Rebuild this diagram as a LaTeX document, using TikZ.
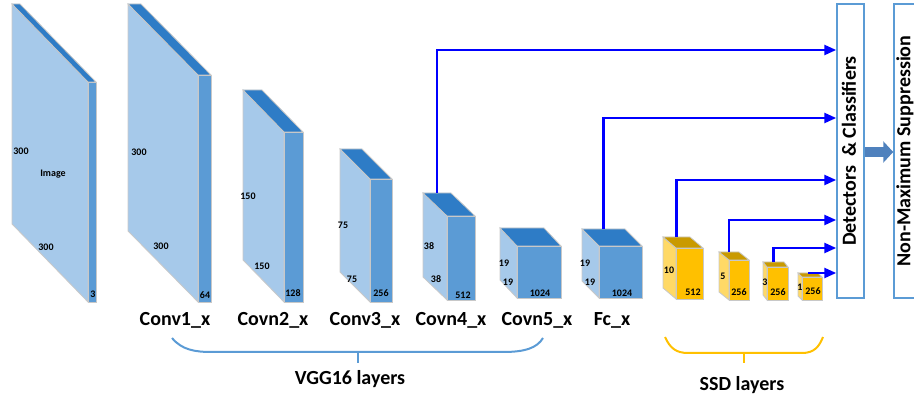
\documentclass[tikz,border=0pt]{standalone}
\usepackage{fontspec}
\setmainfont{Carlito}
\usetikzlibrary{arrows.meta}

\definecolor{bLight}{HTML}{A6C9EA}
\definecolor{bFront}{HTML}{5B9BD5}
\definecolor{bTop}{HTML}{2E7CC6}
\definecolor{yLight}{HTML}{FFD966}
\definecolor{yFront}{HTML}{FFC000}
\definecolor{yTop}{HTML}{C99A00}
\definecolor{edgeGray}{HTML}{C8C8C8}
\definecolor{linkBlue}{HTML}{0000FF}
\definecolor{fatArrow}{HTML}{4F81BD}

% cuboid: name, front x, front y, front width, front height, depth dx, depth dy, colour set
\newcommand\cuboid[8]{%
  \filldraw[fill=#8Light, draw=edgeGray, line width=0.8pt]
    (#2,#3) -- ++(-#6,-#7) -- ++(0,#5) -- ++(#6,#7) -- cycle;
  \filldraw[fill=#8Top, draw=edgeGray, line width=0.8pt]
    (#2,#3) -- ++(#4,0) -- ++(-#6,-#7) -- ++(-#4,0) -- cycle;
  \filldraw[fill=#8Front, draw=edgeGray, line width=0.8pt]
    (#2,#3) rectangle ++(#4,#5);
  \coordinate (#1) at ({#2-#6+#4/2},{#3-#7});
}

\begin{document}
\begin{tikzpicture}[x=1pt,y=-1pt,
  num/.style={font=\bfseries\fontsize{10}{10}\selectfont, inner sep=0pt},
  layer/.style={font=\bfseries\fontsize{20}{20}\selectfont, inner sep=0pt},
  conn/.style={draw=linkBlue, line width=2.4pt, -{Triangle[length=12pt,width=10pt]}},
  panel/.style={draw=bFront, line width=1.5pt, fill=white, inner sep=0pt}]
\useasboundingbox (0,0) rectangle (914,398);

% feature maps of the VGG16 backbone
\cuboid{img}{88}{82}{8}{220}{76}{78}{b}
\cuboid{c1}{198}{75}{13}{227}{70}{71}{b}
\cuboid{c2}{284}{132}{19}{170}{41}{42}{b}
\cuboid{c3}{370}{179}{22}{123}{30}{30}{b}
\cuboid{c4}{447}{216}{28}{84}{24}{23}{b}
\cuboid{c5}{517}{246}{44}{52}{17}{18}{b}
\cuboid{fc}{599}{246}{43}{52}{17}{17}{b}

% extra SSD feature maps
\cuboid{s1}{676}{248}{27}{51}{13}{11}{y}
\cuboid{s2}{729}{260}{20}{40}{10}{8}{y}
\cuboid{s3}{767}{267}{21}{33}{4}{5}{y}
\cuboid{s4}{802}{277}{20}{23}{4}{4}{y}

% sizes
\node[num] (tImg) at (53,174) {Image};
\node[num] (t01) at (21,151) {300};
\node[num] (t02) at (46,247) {300};
\node[num] (t03) at (93,294) {3};
\node[num] (t11) at (139,152) {300};
\node[num] (t12) at (161,246) {300};
\node[num] (t13) at (205,295) {64};
\node[num] (t21) at (248,196) {150};
\node[num] (t22) at (262,266) {150};
\node[num] (t23) at (293,293) {128};
\node[num] (t31) at (343,225) {75};
\node[num] (t32) at (352,279) {75};
\node[num] (t33) at (381,293) {256};
\node[num] (t41) at (429,246) {38};
\node[num] (t42) at (436,279) {38};
\node[num] (t43) at (463,295) {512};
\node[num] (t51) at (504,263) {19};
\node[num] (t52) at (508,282) {19};
\node[num] (t53) at (540,293) {1024};
\node[num] (t61) at (585,263) {19};
\node[num] (t62) at (590,282) {19};
\node[num] (t63) at (622,293) {1024};
\node[num] (u11) at (669,270) {10};
\node[num] (u12) at (693,292) {512};
\node[num] (u21) at (723,276) {5};
\node[num] (u22) at (739,292) {256};
\node[num] (u31) at (765,282) {3};
\node[num] (u32) at (778,292) {256};
\node[num] (u41) at (800,287) {1};
\node[num] (u42) at (813,291) {256};

% layer names
\node[layer] (L1) at (175,320) {Conv1\_x};
\node[layer] (L2) at (273,320) {Covn2\_x};
\node[layer] (L3) at (365,320) {Conv3\_x};
\node[layer] (L4) at (451,320) {Covn4\_x};
\node[layer] (L5) at (537,320) {Covn5\_x};
\node[layer] (L6) at (612,320) {Fc\_x};

% groups
\draw[bFront, line width=2pt] (172,338) .. controls (182,350) and (195,352) .. (212,352)
  -- (503,352) .. controls (525,352) and (537,348) .. (543,338);
\draw[bFront, line width=2pt] (358,352) -- (358,363);
\node[layer] (gVGG) at (350,379) {VGG16 layers};
\draw[yFront, line width=2pt] (665,337) .. controls (670,348) and (676,353) .. (688,353)
  -- (802,353) .. controls (814,353) and (819,347) .. (823,337);
\draw[yFront, line width=2pt] (744,353) -- (744,363);
\node[layer] (gSSD) at (742,385) {SSD layers};

% detection head
\node[panel, minimum width=27pt, minimum height=294pt] (det) at (850.5,151) {};
\node[layer, rotate=90] (detT) at (849,151) {Detectors~~\& Classifiers};
\begin{scope}
  \clip (0,0) rectangle (914,398);
  \node[panel, minimum width=36pt, minimum height=294pt] (nms) at (912,151) {};
\end{scope}
\node[layer, rotate=90] (nmsT) at (905,151) {Non-Maximum Suppression};
\draw[fatArrow, line width=10pt, -{Triangle[length=10pt,width=21pt]}] (det.east |- 0,152) -- (nms.west |- 0,152);

% links from feature maps to the detectors
\draw[conn] (c4) |- (det.west |- 0,50);
\draw[conn] (fc) |- (det.west |- 0,118);
\draw[conn] (s1) |- (det.west |- 0,180);
\draw[conn] (s2) |- (det.west |- 0,220);
\draw[conn] (s3) |- (det.west |- 0,248);
\draw[conn] (s4) -- (det.west |- s4);
\end{tikzpicture}
\end{document}
